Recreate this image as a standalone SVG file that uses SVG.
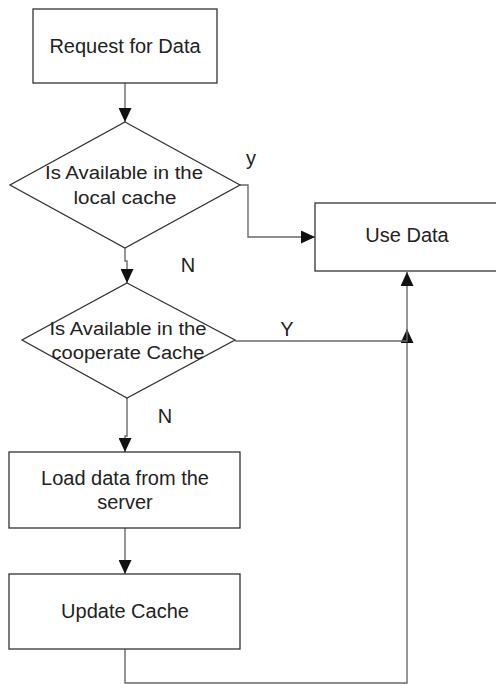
<svg xmlns="http://www.w3.org/2000/svg" width="496" height="684" viewBox="0 0 496 684">
  <style>
    .shape { fill: #ffffff; stroke: #333333; stroke-width: 1.3; }
    .conn { fill: none; stroke: #6a6a6a; stroke-width: 1.4; }
    .label { font-family: "Liberation Sans", Arial, sans-serif; font-size: 20px; fill: #222222; text-anchor: middle; }
    .dlabel { font-family: "Liberation Sans", Arial, sans-serif; font-size: 18px; fill: #222222; text-anchor: middle; }
  </style>
  <defs>
    <marker id="arrow" markerUnits="userSpaceOnUse" markerWidth="14" markerHeight="13" refX="14" refY="6.5" orient="auto">
      <path d="M0,0 L14,6.5 L0,13 Z" fill="#111111"/>
    </marker>
  </defs>
  <rect width="496" height="684" fill="#ffffff"/>

  <!-- connectors -->
  <g id="connectors">
    <path class="conn" d="M125,83 V122" marker-end="url(#arrow)"/>
    <path class="conn" d="M240,185 H248 V237 H315" marker-end="url(#arrow)"/>
    <path class="conn" d="M125,248 V261 H127 V283" marker-end="url(#arrow)"/>
    <path class="conn" d="M127,398 V436 H125 V452" marker-end="url(#arrow)"/>
    <path class="conn" d="M125,528 V574" marker-end="url(#arrow)"/>
    <path class="conn" d="M125,649 V683 H407 V329" marker-end="url(#arrow)"/>
    <path class="conn" d="M235,341 H407 V272" marker-end="url(#arrow)"/>
    <text class="label" x="251" y="165">y</text>
    <text class="label" x="188" y="272">N</text>
    <text class="label" x="287" y="336">Y</text>
    <text class="label" x="165" y="423">N</text>
  </g>

  <g id="request">
    <rect class="shape" x="33" y="9" width="184" height="74"/>
    <text class="label" x="125" y="53">Request for Data</text>
  </g>

  <g id="local-check">
    <polygon class="shape" points="125,122 240,185 125,248 10,185"/>
    <text class="dlabel" x="124" y="179" textLength="158" lengthAdjust="spacingAndGlyphs">Is Available in the</text>
    <text class="dlabel" x="125" y="204" textLength="103" lengthAdjust="spacingAndGlyphs">local cache</text>
  </g>

  <g id="use-data">
    <rect class="shape" x="315" y="203" width="190" height="68"/>
    <text class="label" x="407" y="242">Use Data</text>
  </g>

  <g id="coop-check">
    <polygon class="shape" points="127,283 235,340 127,398 22,340"/>
    <text class="dlabel" x="128" y="335" textLength="157" lengthAdjust="spacingAndGlyphs">Is Available in the</text>
    <text class="dlabel" x="128" y="359" textLength="153" lengthAdjust="spacingAndGlyphs">cooperate Cache</text>
  </g>

  <g id="load-server">
    <rect class="shape" x="9" y="452" width="231" height="76"/>
    <text class="label" x="125" y="485">Load data from the</text>
    <text class="label" x="125" y="509">server</text>
  </g>

  <g id="update-cache">
    <rect class="shape" x="9" y="574" width="231" height="75"/>
    <text class="label" x="125" y="618">Update Cache</text>
  </g>
</svg>
